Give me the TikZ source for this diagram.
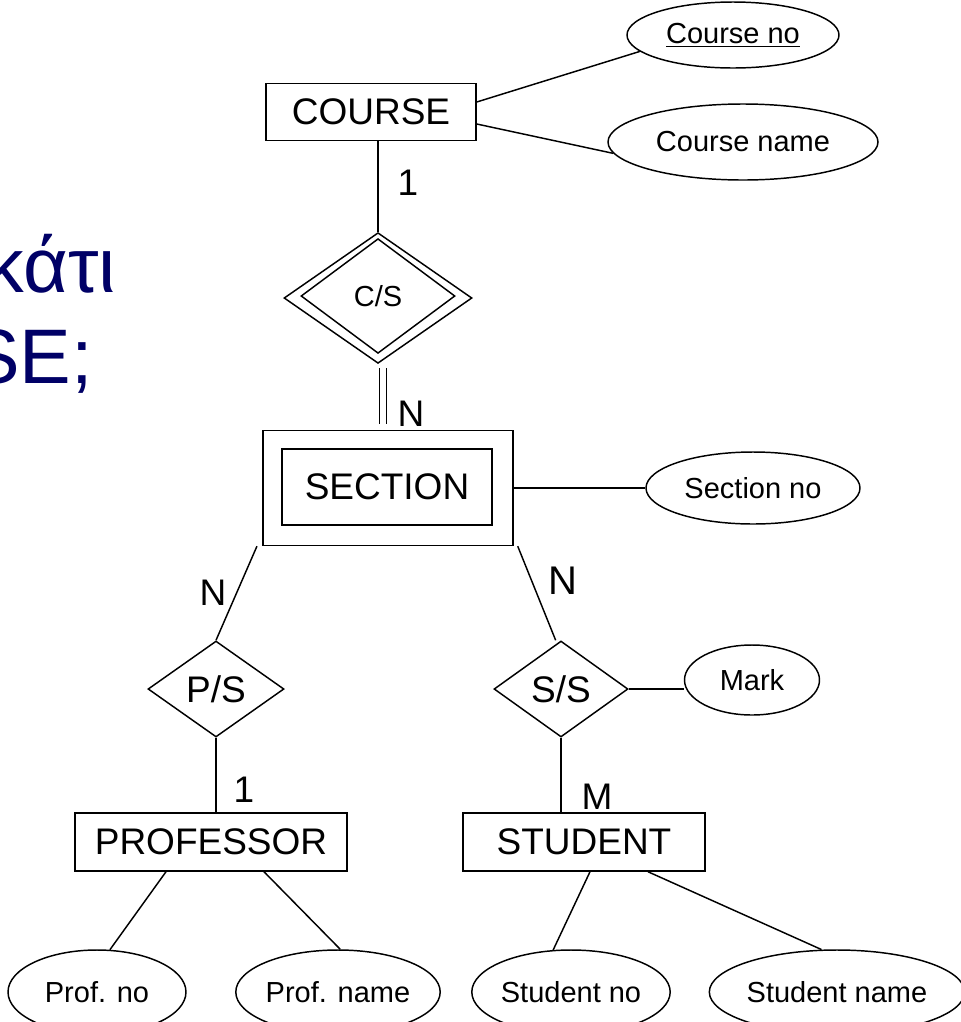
\documentclass[tikz,border=0pt]{standalone}
\usepackage{fontspec}
\setmainfont{Liberation Sans}
\usetikzlibrary{shapes.geometric,positioning}
\definecolor{titleblue}{RGB}{0,0,102}
\tikzset{
  entity/.style={draw, rectangle, line width=1.1pt, inner sep=0pt, font=\fontsize{27.75}{33}\selectfont},
  attrib/.style={draw, ellipse, line width=1.1pt, inner sep=0pt, font=\fontsize{21.75}{26}\selectfont},
  relation/.style={draw, diamond, line width=1.1pt, inner sep=0pt},
  card/.style={inner sep=0pt, font=\fontsize{27.75}{33}\selectfont},
  link/.style={line width=1.1pt},
  title/.style={anchor=base east, inner sep=0pt, text=titleblue, font=\fontsize{58}{70}\selectfont}
}
\begin{document}
\begin{tikzpicture}[x=0.75pt, y=-0.75pt]
    \useasboundingbox (0,0) rectangle (961,1022);
    \clip (0,0) rectangle (961,1022);
    % question text, cut at the left edge
    \node[title] (q1) at (116,292) {κάτι};
    \node[title] (q2) at (93,383) {SE;};
    % entities and relationships
    \node[entity, minimum width=157.5pt, minimum height=42.75pt] (course) at (371,112) {COURSE};
    \node[attrib, minimum width=159pt, minimum height=49.5pt] (cno) at (733,35) {\underline{Course no}};
    \node[attrib, minimum width=202.5pt, minimum height=57pt] (cname) at (743,142) {Course name};
    \node[relation, minimum width=141pt, minimum height=98pt] (cs) at (378,298) {};
    \node[relation, minimum width=115.5pt, minimum height=86pt, font=\fontsize{21.75}{26}\selectfont] (csin) at (378,296) {C/S};
    \node[entity, minimum width=187.5pt, minimum height=86.25pt] (sec) at (388,488) {};
    \node[entity, minimum width=157.5pt, minimum height=57pt] (secin) at (387,487) {SECTION};
    \node[attrib, minimum width=160.5pt, minimum height=54pt] (secno) at (753,488) {Section no};
    \node[relation, minimum width=102pt, minimum height=72pt, font=\fontsize{27.75}{33}\selectfont] (ps) at (216,689) {P/S};
    \node[relation, minimum width=100.5pt, minimum height=72pt, font=\fontsize{27.75}{33}\selectfont] (ss) at (561,689) {S/S};
    \node[attrib, minimum width=101.25pt, minimum height=52.5pt] (mark) at (752,680) {Mark};
    \node[entity, minimum width=204pt, minimum height=43.5pt] (prof) at (211,842) {PROFESSOR};
    \node[entity, minimum width=181.5pt, minimum height=43.5pt] (stud) at (584,842) {STUDENT};
    \node[attrib, minimum width=133.5pt, minimum height=63pt] (pno) at (97,992) {Prof. no};
    \node[attrib, minimum width=142.5pt, minimum height=63pt] (pname) at (338,992) {Prof. name};
    \node[attrib, minimum width=147pt, minimum height=63pt] (sno) at (571,992) {Student no};
    \node[attrib, minimum width=176pt, minimum height=63pt] (sname) at (837,992) {Student name};
    % connectors
    \draw[link] ([yshift=7.5pt]course.east) -- (cno.190);
    \draw[link] ([yshift=-9pt]course.east) -- (cname.185);
    \draw[link] (cs.north) -- (cs.north |- course.south);
    \draw[link, double, double distance=4.5pt] ([xshift=3.75pt,yshift=-3pt]cs.south) -- ([xshift=3.75pt,yshift=4.5pt]cs.south |- sec.north);
    \draw[link] (sec.east) -- (secno.west);
    \draw[link] ([xshift=-4pt]sec.south west) -- (ps.north);
    \draw[link] ([xshift=3pt]sec.south east) -- ([xshift=-4pt]ss.north);
    \draw[link] (ps.south) -- (ps.south |- prof.north);
    \draw[link] (ss.south) -- (ss.south |- stud.north);
    \draw[link] (ss.east) -- (ss.east -| mark.west);
    \draw[link] ([xshift=-33.75pt]prof.south) -- (pno.73);
    \draw[link] ([xshift=39.75pt]prof.south) -- (pname.87);
    \draw[link] ([xshift=4.5pt]stud.south) -- (sno.113);
    \draw[link] ([xshift=48pt]stud.south) -- (sname.110);
    % cardinalities
    \node[card] (c1) at (408,183) {1};
    \node[card] (n1) at (411,414) {N};
    \node[card] (n2) at (213,593) {N};
    \node[card, font=\fontsize{30}{36}\selectfont] (n3) at (563,581) {N};
    \node[card] (p1) at (244,790) {1};
    \node[card] (m1) at (597,797) {M};
\end{tikzpicture}
\end{document}
